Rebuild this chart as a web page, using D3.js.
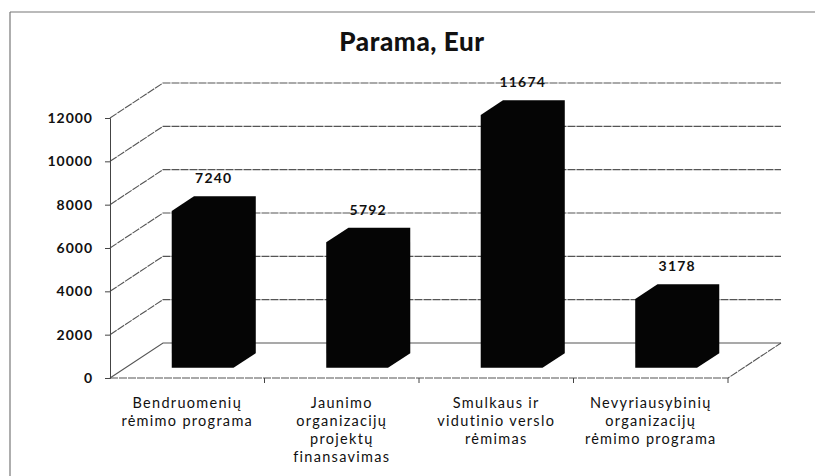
<!DOCTYPE html>
<html>
<head>
<meta charset="utf-8">
<script src="https://cdn.jsdelivr.net/npm/d3@7"></script>
<style>
  body { margin: 0; background: #fff; }
  text { font-family: Lato, "Open Sans", sans-serif; fill: #111; }
</style>
</head>
<body>
<div class="chart"></div>
<script>
// data
const categories = [
  "Bendruomenių rėmimo programa",
  "Jaunimo organizacijų projektų finansavimas",
  "Smulkaus ir vidutinio verslo rėmimas",
  "Nevyriausybinių organizacijų rėmimo programa"
];
const categoryLines = [
  ["Bendruomenių", "rėmimo programa"],
  ["Jaunimo", "organizacijų", "projektų", "finansavimas"],
  ["Smulkaus ir", "vidutinio verslo", "rėmimas"],
  ["Nevyriausybinių", "organizacijų", "rėmimo programa"]
];
const values = [7240, 5792, 11674, 3178];
const yTicks = [0, 2000, 4000, 6000, 8000, 10000, 12000];
const title = "Parama, Eur";

const W = 815, H = 476;
// 3d depth of the plot box
const depthX = 53, depthY = -35;
const barDepth0 = 0.29, barDepth1 = 0.71;

const svg = d3.select(".chart")
  .append("svg")
    .attr("width", W)
    .attr("height", H);

// frame (only top and left edge show in the scan)
svg.append("line")
  .attr("x1", 10).attr("y1", 12).attr("x2", W).attr("y2", 12)
  .style("stroke", "#777").style("stroke-width", 1.2);
svg.append("line")
  .attr("x1", 10).attr("y1", 12).attr("x2", 10).attr("y2", H)
  .style("stroke", "#777").style("stroke-width", 1.2);

// title
svg.append("text")
  .attr("x", 412)
  .attr("y", 51)
  .attr("text-anchor", "middle")
  .style("font-size", "26px")
  .style("font-weight", "900")
  .style("letter-spacing", "0.6px")
  .text(title);

// scales
const x = d3.scaleBand()
  .domain(categories)
  .range([110, 728])
  .padding(0);

const y = d3.scaleLinear()
  .domain([0, 12000])
  .range([378, 118]);

const pt = (px, v, d) => [px + d * depthX, y(v) + d * depthY];
const xEnd = x.range()[1];
const xStart = x.range()[0];

// gridlines: side wall diagonal + back wall horizontal
const grid = svg.append("g").attr("class", "grid");
yTicks.forEach(v => {
  const a = pt(xStart, v, 0), b = pt(xStart, v, 1), c = pt(xEnd, v, 1);
  grid.append("path")
    .attr("d", `M${a}L${b}L${c}`)
    .style("fill", "none")
    .style("stroke", "#555")
    .style("stroke-width", 1.1)
    .style("stroke-dasharray", v === 0 ? null : "8,1");
});
// floor right edge and front edge
grid.append("path")
  .attr("d", `M${pt(xStart, 0, 0)}L${pt(xEnd, 0, 0)}L${pt(xEnd, 0, 1)}`)
  .style("fill", "none")
  .style("stroke", "#555")
  .style("stroke-width", 1.1)
  .style("stroke-dasharray", "8,1");

// y axis
const yAxis = svg.append("g")
  .attr("transform", `translate(${xStart},0)`)
  .call(d3.axisLeft(y).tickValues(yTicks).tickSize(5).tickPadding(12).tickFormat(d3.format("d")));
yAxis.select(".domain").style("stroke", "#444");
yAxis.selectAll(".tick line").style("stroke", "#444");
yAxis.selectAll(".tick text")
  .style("font-family", "Lato, sans-serif")
  .style("font-size", "14px")
  .style("font-weight", "700")
  .style("letter-spacing", "1px")
  .style("fill", "#111");

// category boundary ticks
const bounds = categories.map(c => x(c)).slice(1).concat([xEnd]);
svg.selectAll(".cat-tick")
  .data(bounds)
  .enter().append("line")
  .attr("class", "cat-tick")
  .attr("x1", d => d).attr("x2", d => d)
  .attr("y1", y(0)).attr("y2", y(0) + 5)
  .style("stroke", "#444");

// category labels
const catLabels = svg.selectAll(".cat-label")
  .data(categories)
  .enter().append("text")
  .attr("class", "cat-label")
  .attr("text-anchor", "middle")
  .style("font-size", "14.5px")
  .style("letter-spacing", "1.3px")
  .attr("transform", d => `translate(${x(d) + x.bandwidth() / 2},408)`);
catLabels.selectAll("tspan")
  .data((d, i) => categoryLines[i])
  .enter().append("tspan")
  .attr("x", 0)
  .attr("y", (d, i) => i * 18)
  .text(d => d);

// bars: 3d boxes
const barW = x.bandwidth() * 0.4;
const bars = svg.selectAll(".bar")
  .data(categories.map((c, i) => ({ name: c, value: values[i] })))
  .enter().append("g")
  .attr("class", "bar");

bars.append("path")
  .attr("d", d => {
    const x0 = x(d.name) + x.bandwidth() * 0.3;
    const x1 = x0 + barW;
    const p = [
      pt(x0, 0, barDepth0), pt(x0, d.value, barDepth0), pt(x0, d.value, barDepth1),
      pt(x1, d.value, barDepth1), pt(x1, 0, barDepth1), pt(x1, 0, barDepth0)
    ];
    return "M" + p.join("L") + "Z";
  })
  .style("fill", "#050505");

// data labels
bars.append("text")
  .attr("text-anchor", "middle")
  .attr("x", d => pt(x(d.name) + x.bandwidth() / 2, d.value, 0.5)[0])
  .attr("y", d => pt(0, d.value, barDepth1)[1] - 13)
  .style("font-size", "14px")
  .style("font-weight", "700")
  .style("letter-spacing", "1.2px")
  .text(d => d.value);
</script>
</body>
</html>
